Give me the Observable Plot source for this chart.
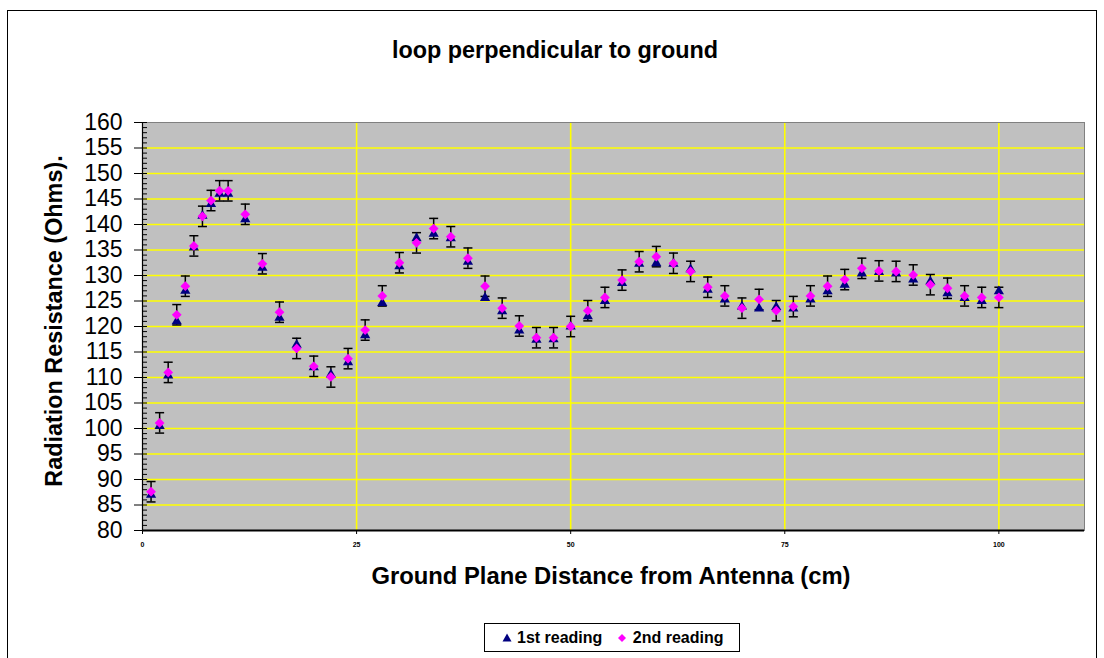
<!DOCTYPE html>
<html><head><meta charset="utf-8">
<script src="https://cdn.jsdelivr.net/npm/d3@7"></script>
<script src="https://cdn.jsdelivr.net/npm/@observablehq/plot@0.6"></script>
<style>
body{margin:0;background:#fff;font-family:"Liberation Sans",Arial,sans-serif;}
#wrap{position:relative;width:1104px;height:658px;overflow:hidden;background:#fff;}
#border{position:absolute;left:7px;top:10px;width:1090px;height:720px;border:1px solid #000;box-sizing:border-box;}
#chart{position:absolute;left:0;top:0;}
.t{position:absolute;white-space:nowrap;line-height:1;font-weight:bold;color:#000;}
#title{left:555px;top:39px;font-size:23.4px;transform:translateX(-50%);}
#xtitle{left:611px;top:564px;font-size:23.8px;transform:translateX(-50%);}
#ytitle{left:55px;top:321px;font-size:23.4px;transform:translate(-50%,-50%) rotate(-90deg);}
#legend{position:absolute;left:484px;top:623px;width:256px;height:29px;border:1px solid #000;box-sizing:border-box;background:#fff;display:flex;align-items:center;justify-content:center;gap:4px;font-weight:bold;font-size:16px;}
#legend span{display:inline-flex;align-items:center;}
</style>
</head><body>
<div id="wrap">
  <div id="border"></div>
  <div id="chart"></div>
  <div class="t" id="title">loop perpendicular to ground</div>
  <div class="t" id="xtitle">Ground Plane Distance from Antenna (cm)</div>
  <div class="t" id="ytitle">Radiation Resistance (Ohms).</div>
  <div id="legend">
    <span><svg width="12" height="12" viewBox="-6 -6 12 12"><path d="M0,-4.5L4.5,3.5L-4.5,3.5Z" fill="#000080"/></svg>&nbsp;1st reading</span>
    <span style="margin-left:10px"><svg width="12" height="12" viewBox="-6 -6 12 12"><path d="M0,-4L4,0L0,4L-4,0Z" fill="#ff00ff"/></svg>&nbsp;2nd reading</span>
  </div>
</div>
<script>
// distance from antenna (cm)
const distance = [1,2,3,4,5,6,7,8,9,10,12,14,16,18,20,22,24,26,28,30,32,34,36,38,40,42,44,46,48,50,52,54,56,58,60,62,64,66,68,70,72,74,76,78,80,82,84,86,88,90,92,94,96,98,100];
// 1st reading (ohms)
const firstReading = [87.0,100.5,110.4,121.0,127.0,135.5,141.7,144.0,146.0,146.0,141.0,131.5,121.7,116.4,112.0,110.6,113.0,118.3,124.6,131.8,137.3,138.2,137.3,132.7,125.6,123.0,119.2,117.4,117.5,120.0,122.0,125.0,128.5,132.3,132.4,132.3,131.2,127.2,125.3,123.9,123.5,123.8,123.5,125.3,126.9,128.2,130.4,130.7,130.4,129.2,128.8,126.5,125.6,125.0,126.9];
// 2nd reading (ohms)
const secondReading = [87.6,101.1,111.0,122.3,127.9,135.8,141.6,144.7,146.6,146.6,142.0,132.3,122.8,115.7,112.2,110.1,113.7,119.3,126.0,132.5,136.4,139.2,137.6,133.4,127.9,123.6,120.1,117.8,117.8,120.0,123.1,125.7,129.1,132.7,133.7,132.4,130.8,127.7,126.0,123.6,125.3,123.1,123.9,126.0,127.9,129.2,131.4,130.9,130.8,130.1,128.2,127.5,126.0,125.7,125.7];
// error bar half-width (ohms)
const errorHalf = 2;
const yTicks = [80,85,90,95,100,105,110,115,120,125,130,135,140,145,150,155,160];
const yGridLines = [85,90,95,100,105,110,115,120,125,130,135,140,145,150,155];
const xTicks = [0,25,50,75,100];
const xGridLines = [25,50,75,100];
const yMinorTicks = d3.range(80,161,1);

const data = distance.map((x,i)=>({x, first:firstReading[i], second:secondReading[i], lo:secondReading[i]-errorHalf, hi:secondReading[i]+errorHalf}));

const cap = {draw(ctx){ctx.moveTo(-4.5,0);ctx.lineTo(4.5,0);}};

const chart = Plot.plot({
  width:1104, height:600,
  marginLeft:142, marginRight:20, marginTop:122, marginBottom:70,
  style:{fontFamily:'"Liberation Sans",Arial,sans-serif', background:"transparent", color:"#000", overflow:"visible"},
  x:{domain:[0,110]},
  y:{domain:[80,160]},
  marks:[
    Plot.frame({fill:"#c0c0c0"}),
    Plot.gridY(yGridLines,{stroke:"#ffff00",strokeOpacity:1,strokeWidth:1.6}),
    Plot.gridX(xGridLines,{stroke:"#ffff00",strokeOpacity:1,strokeWidth:1.6}),
    Plot.frame({stroke:"#808080"}),
    Plot.ruleX([0],{stroke:"#000",strokeWidth:1.2}),
    Plot.ruleY([80],{stroke:"#000",strokeWidth:2}),
    Plot.axisY(yTicks,{tickSize:8,tickPadding:12,fontSize:23,label:null,stroke:"#000"}),
    Plot.tickY(yMinorTicks,{y:d=>d,stroke:"#000",insetRight:937}),
    Plot.axisX(xTicks,{tickSize:4,tickPadding:8,fontSize:7,fontWeight:"bold",label:null,stroke:"#000"}),
    Plot.ruleX(data,{x:"x",y1:"lo",y2:"hi",stroke:"#000",strokeWidth:1.5}),
    Plot.dot(data,{x:"x",y:"lo",symbol:cap,stroke:"#000",strokeWidth:1.5,r:3}),
    Plot.dot(data,{x:"x",y:"hi",symbol:cap,stroke:"#000",strokeWidth:1.5,r:3}),
    Plot.dot(data,{x:"x",y:"first",symbol:"triangle",r:3.8,fill:"#000080",stroke:"none"}),
    Plot.dot(data,{x:"x",y:"second",symbol:"diamond2",r:4.4,fill:"#ff00ff",stroke:"none"})
  ]
});
document.getElementById("chart").appendChild(chart);
</script>
</body></html>
